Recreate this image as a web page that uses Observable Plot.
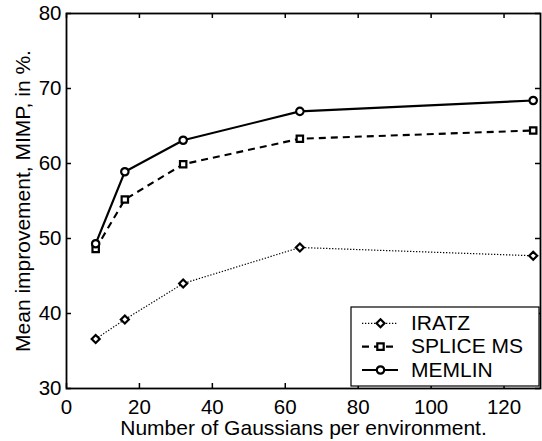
<!DOCTYPE html>
<html><head><meta charset="utf-8">
<script src="https://cdn.jsdelivr.net/npm/d3@7"></script>
<script src="https://cdn.jsdelivr.net/npm/@observablehq/plot@0.6"></script>
<style>body{margin:0;background:#fff} svg{display:block}</style>
</head><body><div id="chart"></div>
<script>
const sizes = [8, 16, 32, 64, 128];
const seriesNames = ["IRATZ", "SPLICE MS", "MEMLIN"];
const iratz = [36.6, 39.2, 44.0, 48.8, 47.7];
const splice = [48.6, 55.2, 59.9, 63.3, 64.4];
const memlin = [49.3, 58.9, 63.1, 66.95, 68.4];
const xTicks = [0, 20, 40, 60, 80, 100, 120];
const yTicks = [30, 40, 50, 60, 70, 80];
const xLabel = "Number of Gaussians per environment.";
const yLabel = "Mean improvement, MIMP, in %.";

const seriesValues = [iratz, splice, memlin];
const styles = [
  {symbol: "diamond2", r: 3.6, dash: "1.3,1.7", width: 1.2, d3sym: d3.symbolDiamond2},
  {symbol: "square", r: 3.6, dash: "7,5", width: 2.1, d3sym: d3.symbolSquare},
  {symbol: "circle", r: 3.7, dash: null, width: 2.1, d3sym: d3.symbolCircle}
];
const data = seriesNames.map((name, i) => sizes.map((x, j) => ({series: name, x, y: seriesValues[i][j]})));

const W = 542, H = 441, mL = 66, mR = 2, mT = 13, mB = 53;
const plotH = H - mT - mB, plotW = W - mL - mR;
const font = "'Liberation Sans', Arial, Helvetica, sans-serif";

const marks = [
  Plot.axisX(xTicks, {tickSize: 0, tickPadding: 11, fontSize: 20.5, label: null}),
  Plot.axisY(yTicks, {tickSize: 0, tickPadding: 5, fontSize: 20.5, label: null}),
  Plot.tickX(xTicks, {x: d => d, insetTop: plotH - 5, stroke: "#000", strokeWidth: 1.5}),
  Plot.tickX(xTicks, {x: d => d, insetBottom: plotH - 5, stroke: "#000", strokeWidth: 1.5}),
  Plot.tickY(yTicks, {y: d => d, insetRight: plotW - 5, stroke: "#000", strokeWidth: 1.5}),
  Plot.tickY(yTicks, {y: d => d, insetLeft: plotW - 5, stroke: "#000", strokeWidth: 1.5})
];
data.forEach((rows, i) => {
  const s = styles[i];
  marks.push(Plot.line(rows, {x: "x", y: "y", stroke: "#000", strokeWidth: s.width,
    strokeDasharray: s.dash, strokeLinecap: "butt"}));
});
data.forEach((rows, i) => {
  const s = styles[i];
  marks.push(Plot.dot(rows, {x: "x", y: "y", symbol: () => s.symbol, r: s.r, stroke: "#000",
    fill: "#fff", strokeWidth: 2.2}));
});
marks.push(Plot.frame({stroke: "#000", strokeWidth: 1.8}));
marks.push(Plot.text([xLabel], {text: d => d, frameAnchor: "bottom", textAnchor: "middle", dy: 46, lineAnchor: "bottom", fontSize: 21}));
marks.push(Plot.text([yLabel], {text: d => d, frameAnchor: "left", textAnchor: "middle", dx: -43, rotate: -90, lineAnchor: "middle", fontSize: 21}));

const chart = Plot.plot({
  width: W, height: H, marginLeft: mL, marginRight: mR, marginTop: mT, marginBottom: mB,
  style: {fontFamily: font, background: "#fff", color: "#000"},
  x: {domain: [0, 130]},
  y: {domain: [30, 80]},
  marks
});
document.getElementById("chart").appendChild(chart);

// Legend box inside the plot (lower right)
const svg = d3.select(chart);
const lg = svg.append("g").attr("font-family", font).attr("font-size", 21).attr("text-anchor", "start");
lg.append("rect").attr("x", 351).attr("y", 307).attr("width", 188).attr("height", 79)
  .attr("fill", "#fff").attr("stroke", "#000").attr("stroke-width", 1.2);
seriesNames.forEach((name, i) => {
  const s = styles[i];
  const cy = 323.3 + i * 23.35;
  lg.append("line").attr("x1", 362).attr("x2", 398).attr("y1", cy).attr("y2", cy)
    .attr("stroke", "#000").attr("stroke-width", s.width)
    .attr("stroke-dasharray", s.dash).attr("stroke-linecap", "butt");
  lg.append("path").attr("d", d3.symbol(s.d3sym, Math.PI * s.r * s.r)())
    .attr("transform", `translate(380.5,${cy})`).attr("fill", "#fff")
    .attr("stroke", "#000").attr("stroke-width", 2.2);
  lg.append("text").attr("x", 411).attr("y", cy).attr("dy", "0.31em").attr("fill", "#000")
    .attr("text-anchor", "start").text(name);
});
</script></body></html>
